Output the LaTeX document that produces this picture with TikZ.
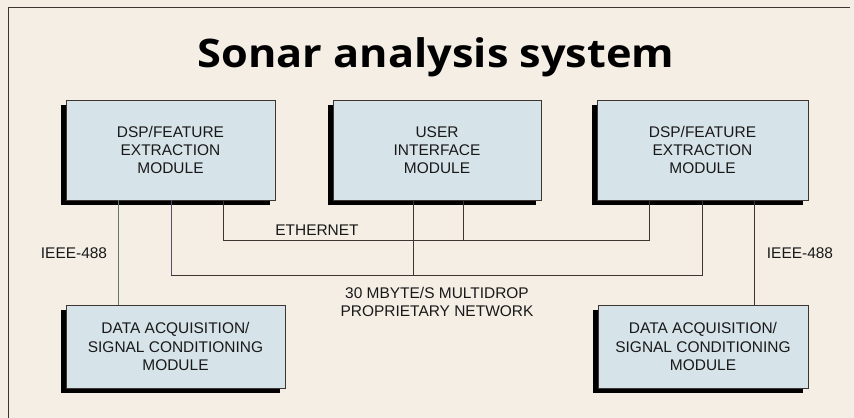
\documentclass[tikz,border=0pt]{standalone}
\usepackage{fontspec}
\setmainfont{Liberation Sans}
\newfontfamily\titlefont[FakeStretch=1.1]{Open Sans}
\usepackage{xcolor}
\usepackage{tikz}
\usetikzlibrary{shadows}
\definecolor{paper}{RGB}{244,238,229}
\definecolor{boxblue}{RGB}{214,227,233}
\definecolor{wire}{RGB}{62,52,50}
\definecolor{gpibgreen}{RGB}{92,122,104}
\definecolor{dropviolet}{RGB}{96,72,104}

\begin{document}
\begin{tikzpicture}[
    module/.style={rectangle, draw=wire, line width=0.6pt, fill=boxblue, align=center,
        minimum height=2.5cm, text=black!90,
        general shadow={fill=black, shadow xshift=-0.125cm, shadow yshift=-0.125cm}},
    label/.style={align=center, text=black!90},
    every node/.style={font=\fontsize{11}{13}\selectfont},
    line width=0.6pt
]
\useasboundingbox[fill=paper] (0,0) rectangle (21.35,-10.45);
\draw[wire] (21.25,-0.175) -- (0.2,-0.175) -- (0.2,-10.45);
\node[font=\titlefont\bfseries\fontsize{28}{32}\selectfont, anchor=base] (title) at (10.9,-1.7) {Sonar analysis system};
\node[module, minimum width=5.225cm] (dspL) at (4.2625,-3.75) {DSP/FEATURE\\EXTRACTION\\MODULE};
\node[module, minimum width=5.2cm] (ui) at (10.925,-3.75) {USER\\INTERFACE\\MODULE};
\node[module, minimum width=5.275cm] (dspR) at (17.5625,-3.75) {DSP/FEATURE\\EXTRACTION\\MODULE};
\node[module, minimum width=5.475cm, minimum height=2.075cm] (daqL) at (4.3875,-8.6625) {DATA ACQUISITION/\\SIGNAL CONDITIONING\\MODULE};
\node[module, minimum width=5.25cm, minimum height=2.075cm] (daqR) at (17.575,-8.6625) {DATA ACQUISITION/\\SIGNAL CONDITIONING\\MODULE};
\coordinate (ethL) at (5.575,-6);
\coordinate (ethR) at (16.225,-6);
\coordinate (ethUI) at (11.575,-6);
\coordinate (mdL) at (4.275,-6.875);
\coordinate (mdR) at (17.55,-6.875);
\coordinate (mdUI) at (10.325,-6.875);
\coordinate (gpibL) at (2.95,0);
\coordinate (gpibR) at (18.85,0);
\draw[wire] (dspL.south -| ethL) |- (ethR) -- (dspR.south -| ethR);
\draw[wire] (ui.south -| ethUI) -- (ethUI);
\draw[dropviolet] (dspL.south -| mdL) -- (mdL);
\draw[wire] (mdL) -| (dspR.south -| mdR);
\draw[wire] (ui.south -| mdUI) -- (mdUI);
\draw[gpibgreen] (dspL.south -| gpibL) -- (daqL.north -| gpibL);
\draw[wire] (dspR.south -| gpibR) -- (daqR.north -| gpibR);
\node[label] (eth) at (7.925,-5.75) {ETHERNET};
\node[label] (gpibtxtL) at (1.85,-6.325) {IEEE-488};
\node[label] (gpibtxtR) at (20,-6.325) {IEEE-488};
\node[label] (md) at (10.925,-7.55) {30 MBYTE/S MULTIDROP\\PROPRIETARY NETWORK};
\end{tikzpicture}
\end{document}
